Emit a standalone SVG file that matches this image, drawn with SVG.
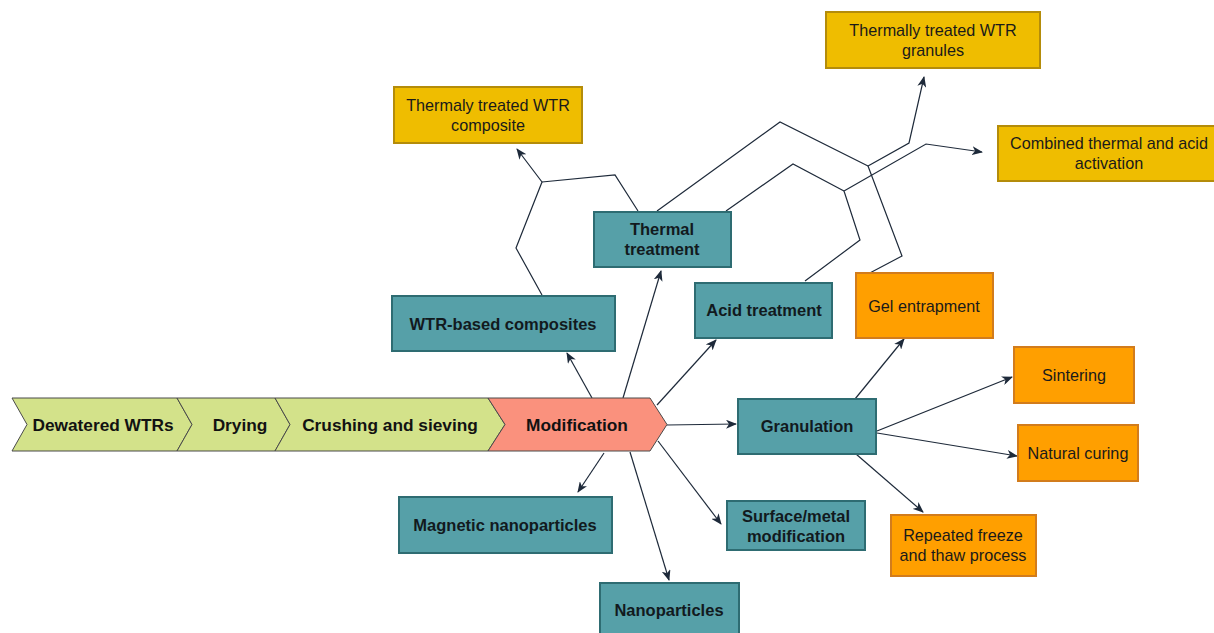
<svg xmlns="http://www.w3.org/2000/svg" width="1214" height="633" viewBox="0 0 1214 633">
<defs>
<marker id="ah" markerUnits="userSpaceOnUse" markerWidth="11" markerHeight="9" refX="10" refY="4.5" orient="auto">
<path d="M0,0 L11,4.5 L0,9 L3,4.5 z" fill="#1e2a3a"/>
</marker>
<style>
.chev{fill:#d3e28a;stroke:#4a4a4a;stroke-width:1}
.mod{fill:#fa917d;stroke:#4a4a4a;stroke-width:1}
.teal{fill:#56a0a8;stroke:#2e6c72;stroke-width:2}
.orange{fill:#ff9f00;stroke:#d27c1c;stroke-width:2}
.yellow{fill:#efbd00;stroke:#b48c0a;stroke-width:2}
.bt{font-family:"Liberation Sans",Arial,sans-serif;font-size:16.5px;font-weight:bold;fill:#121a1e;text-anchor:middle;dominant-baseline:central}
.ct{font-family:"Liberation Sans",Arial,sans-serif;font-size:17.3px;font-weight:bold;fill:#121212;text-anchor:middle;dominant-baseline:central}
.nt{font-family:"Liberation Sans",Arial,sans-serif;font-size:16.2px;fill:#1a1a1a;text-anchor:middle;dominant-baseline:central}
.cn{fill:none;stroke:#1e2a3a;stroke-width:1.2}
.ar{fill:none;stroke:#1e2a3a;stroke-width:1.2;marker-end:url(#ah)}
</style>
</defs>
<rect width="1214" height="633" fill="#ffffff"/>

<g id="connectors">
<line class="ar" x1="592" y1="398" x2="567" y2="353"/>
<line class="ar" x1="623" y1="398" x2="661" y2="271"/>
<line class="ar" x1="657" y1="405" x2="716" y2="340"/>
<line class="ar" x1="667" y1="425" x2="736" y2="424"/>
<line class="ar" x1="604" y1="453" x2="578" y2="492"/>
<line class="ar" x1="630" y1="452" x2="669" y2="580"/>
<line class="ar" x1="658" y1="441" x2="721" y2="524"/>
<line class="ar" x1="855" y1="399" x2="904" y2="339"/>
<line class="ar" x1="877" y1="431" x2="1012" y2="377"/>
<line class="ar" x1="877" y1="433" x2="1017" y2="456"/>
<line class="ar" x1="856" y1="454" x2="923" y2="512"/>
<polyline class="ar" points="542,295 516,248 542,182 517,149"/>
<polyline class="cn" points="638,211 615,175 542,182"/>
<polyline class="cn" points="657,211 780,122 868,166"/>
<polyline class="ar" points="866,275 902,256 868,166 909,143 924,77"/>
<polyline class="cn" points="726,211 793,164 844,191"/>
<polyline class="ar" points="805,281 860,240 844,191 926,144 982,152"/>
</g>

<g id="n-dewatered"><polygon class="chev" points="12,398 177,398 192,424.5 177,451 12,451 27,424.5"/><text class="ct" x="103" y="424.5">Dewatered WTRs</text></g>
<g id="n-drying"><polygon class="chev" points="177,398 275,398 290,424.5 275,451 177,451 192,424.5"/><text class="ct" x="240" y="424.5">Drying</text></g>
<g id="n-crushing"><polygon class="chev" points="275,398 488,398 505,424.5 488,451 275,451 290,424.5"/><text class="ct" x="390" y="424.5">Crushing and sieving</text></g>
<g id="n-modification"><polygon class="mod" points="488,398 650,398 667,424.5 650,451 488,451 505,424.5"/><text class="ct" x="577" y="424.5">Modification</text></g>

<g id="n-thermal"><rect class="teal" x="594" y="212" width="137" height="55"/><text class="bt" x="662" y="229">Thermal</text><text class="bt" x="662" y="249">treatment</text></g>
<g id="n-wtrcomp"><rect class="teal" x="392" y="296" width="223" height="55"/><text class="bt" x="503" y="324">WTR-based composites</text></g>
<g id="n-acid"><rect class="teal" x="695" y="283" width="137" height="55"/><text class="bt" x="764" y="310">Acid treatment</text></g>
<g id="n-granulation"><rect class="teal" x="738" y="399" width="138" height="55"/><text class="bt" x="807" y="426">Granulation</text></g>
<g id="n-magnetic"><rect class="teal" x="399" y="497" width="213" height="56"/><text class="bt" x="505" y="525">Magnetic nanoparticles</text></g>
<g id="n-surface"><rect class="teal" x="727" y="501" width="138" height="49"/><text class="bt" x="796" y="516">Surface/metal</text><text class="bt" x="796" y="536">modification</text></g>
<g id="n-nano"><rect class="teal" x="600" y="583" width="139" height="56"/><text class="bt" x="669" y="610">Nanoparticles</text></g>

<g id="n-gel"><rect class="orange" x="856" y="273" width="137" height="65"/><text class="nt" x="924" y="306">Gel entrapment</text></g>
<g id="n-sintering"><rect class="orange" x="1014" y="347" width="120" height="56"/><text class="nt" x="1074" y="375">Sintering</text></g>
<g id="n-curing"><rect class="orange" x="1018" y="425" width="120" height="56"/><text class="nt" x="1078" y="453">Natural curing</text></g>
<g id="n-freeze"><rect class="orange" x="891" y="515" width="145" height="61"/><text class="nt" x="963" y="535">Repeated freeze</text><text class="nt" x="963" y="555">and thaw process</text></g>

<g id="n-granules"><rect class="yellow" x="826" y="12" width="214" height="56"/><text class="nt" x="933" y="30">Thermally treated WTR</text><text class="nt" x="933" y="50">granules</text></g>
<g id="n-combined"><rect class="yellow" x="998" y="126" width="220" height="55"/><text class="nt" x="1109" y="143">Combined thermal and acid</text><text class="nt" x="1109" y="163">activation</text></g>
<g id="n-tcomposite"><rect class="yellow" x="394" y="87" width="188" height="56"/><text class="nt" x="488" y="105">Thermaly treated WTR</text><text class="nt" x="488" y="125">composite</text></g>
</svg>
